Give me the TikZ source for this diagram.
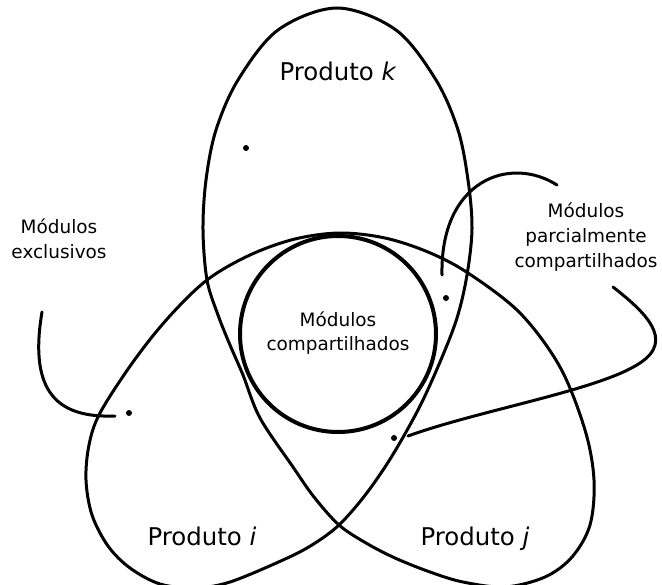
\documentclass[tikz,border=0pt]{standalone}
\usepackage{fontspec}
\setmainfont{DejaVu Sans}
\begin{document}
\begin{tikzpicture}[x=1bp, y=-1bp,
  knot/.style={line width=3bp, line join=round},
  core/.style={line width=4bp},
  lead/.style={line width=3bp, line cap=round},
  dot/.style={circle, fill=black, inner sep=0pt, minimum size=6bp},
  lbl/.style={font=\fontsize{18.5}{25}\selectfont, align=center, inner sep=0pt},
  prod/.style={font=\fontsize{24.5}{28}\selectfont, inner sep=0pt, anchor=base}]
\useasboundingbox (0,0) rectangle (662,585);

% three-lobed outline of the products k (top), i (lower left), j (lower right)
\draw[knot] plot[smooth cycle, tension=0.55] coordinates {
  (337,8) (396,30) (436,80) (458,130) (468,180) (472,228) (467,275)
  (457,318) (440,362) (419,408) (392,456) (366,494) (339,525)
  (312,545) (283,560) (230,582) (195,588) (160,584) (130,568)
  (108,546) (92,515) (86,480) (89,445) (100,413) (133,362) (168,318)
  (207,280) (250,255) (295,239) (340,233) (385,238) (428,252)
  (468,273) (520,313) (560,367) (585,430) (594,480) (590,525)
  (572,557) (545,577) (505,587) (463,582) (430,572) (395,558)
  (366,543) (339,525) (314,497) (293,467) (260,418) (243,375)
  (230,345) (218,315) (207,280) (203,230) (206,180) (216,130)
  (238,80) (278,30)};

% shared core
\node[core, draw, circle, minimum size=196bp, inner sep=0pt] (core) at (338,334) {};
\node[lbl] (shared) at (338,333) {Módulos\\compartilhados};

% product names
\node[prod] (pk) at (338,81) {Produto \textit{k}};
\node[prod] (pi) at (202,545) {Produto \textit{i}};
\node[prod] (pj) at (475,545) {Produto \textit{j}};

% module dots
\node[dot] (dk) at (246,148) {};
\node[dot] (di) at (129,413) {};
\node[dot] (dp) at (446,298) {};
\node[dot] (dq) at (394,438) {};

% side labels
\node[lbl] (excl) at (59,239) {Módulos\\exclusivos};
\node[lbl] (part) at (586,237) {Módulos\\parcialmente\\compartilhados};

% leader curves
\coordinate (ea) at (42,312);
\coordinate (eb) at (115,416);
\draw[lead] (ea) .. controls (28,395) and (60,418) .. (eb);

\coordinate (pa) at (557,185);
\coordinate (pb) at (442,275);
\draw[lead] (pa) .. controls (510,155) and (440,180) .. (pb);

\coordinate (qa) at (613,287);
\coordinate (qm) at (640,363);
\coordinate (qb) at (408,436);
\draw[lead] (qa) .. controls (645,312) and (675,340) .. (qm)
            .. controls (600,390) and (480,410) .. (qb);
\end{tikzpicture}
\end{document}
